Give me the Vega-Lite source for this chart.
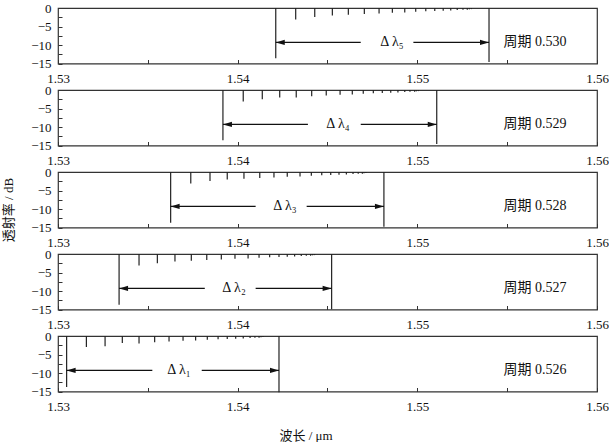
{
  "$schema": "https://vega.github.io/schema/vega-lite/v6.json",
  "background": "white",
  "padding": {"left": 2, "top": 2, "right": 0, "bottom": 2},
  "config": {
    "font": "Liberation Serif, Noto Sans CJK SC",
    "view": {"stroke": "#333", "strokeWidth": 1.2},
    "axis": {
      "domain": false,
      "grid": false,
      "tickColor": "#333",
      "tickWidth": 1,
      "tickSize": 4,
      "offset": -4,
      "zindex": 1,
      "labelFontSize": 13,
      "labelColor": "#111",
      "labelFont": "Liberation Serif"
    }
  },
  "data": {
    "values": [
      {"p": "0.530", "kind": "dip", "wl": 1.54212, "db": -13.6},
      {"p": "0.530", "kind": "dip", "wl": 1.54323, "db": -3.1},
      {"p": "0.530", "kind": "dip", "wl": 1.54429, "db": -2.4},
      {"p": "0.530", "kind": "dip", "wl": 1.54527, "db": -2.0},
      {"p": "0.530", "kind": "dip", "wl": 1.54616, "db": -1.8},
      {"p": "0.530", "kind": "dip", "wl": 1.54705, "db": -1.6},
      {"p": "0.530", "kind": "dip", "wl": 1.54787, "db": -1.5},
      {"p": "0.530", "kind": "dip", "wl": 1.54861, "db": -1.3},
      {"p": "0.530", "kind": "dip", "wl": 1.54930, "db": -1.2},
      {"p": "0.530", "kind": "dip", "wl": 1.54991, "db": -1.0},
      {"p": "0.530", "kind": "dip", "wl": 1.55047, "db": -0.9},
      {"p": "0.530", "kind": "dip", "wl": 1.55097, "db": -0.8},
      {"p": "0.530", "kind": "dip", "wl": 1.55144, "db": -0.75},
      {"p": "0.530", "kind": "dip", "wl": 1.55186, "db": -0.65},
      {"p": "0.530", "kind": "dip", "wl": 1.55222, "db": -0.55},
      {"p": "0.530", "kind": "dip", "wl": 1.55254, "db": -0.5},
      {"p": "0.530", "kind": "dip", "wl": 1.55278, "db": -0.45},
      {"p": "0.530", "kind": "dip", "wl": 1.55290, "db": -0.35},
      {"p": "0.530", "kind": "dip", "wl": 1.55301, "db": -0.3},
      {"p": "0.530", "kind": "dip", "wl": 1.55399, "db": -14.6},
      {"p": "0.530", "kind": "arrow", "a": 1.54212, "g1": 1.54685, "g2": 1.54978, "b": 1.55399, "lx": 1.54859, "tx": 1.5548, "y": -9.3, "lab": "Δ λ₅", "per": "周期 0.530"},

      {"p": "0.529", "kind": "dip", "wl": 1.53918, "db": -13.6},
      {"p": "0.529", "kind": "dip", "wl": 1.54031, "db": -3.1},
      {"p": "0.529", "kind": "dip", "wl": 1.54137, "db": -2.5},
      {"p": "0.529", "kind": "dip", "wl": 1.54234, "db": -2.0},
      {"p": "0.529", "kind": "dip", "wl": 1.54326, "db": -2.0},
      {"p": "0.529", "kind": "dip", "wl": 1.54412, "db": -1.7},
      {"p": "0.529", "kind": "dip", "wl": 1.54493, "db": -1.5},
      {"p": "0.529", "kind": "dip", "wl": 1.54570, "db": -1.3},
      {"p": "0.529", "kind": "dip", "wl": 1.54638, "db": -1.2},
      {"p": "0.529", "kind": "dip", "wl": 1.54699, "db": -1.0},
      {"p": "0.529", "kind": "dip", "wl": 1.54755, "db": -0.9},
      {"p": "0.529", "kind": "dip", "wl": 1.54805, "db": -0.8},
      {"p": "0.529", "kind": "dip", "wl": 1.54852, "db": -0.75},
      {"p": "0.529", "kind": "dip", "wl": 1.54892, "db": -0.65},
      {"p": "0.529", "kind": "dip", "wl": 1.54930, "db": -0.55},
      {"p": "0.529", "kind": "dip", "wl": 1.54959, "db": -0.5},
      {"p": "0.529", "kind": "dip", "wl": 1.54985, "db": -0.45},
      {"p": "0.529", "kind": "dip", "wl": 1.54995, "db": -0.35},
      {"p": "0.529", "kind": "dip", "wl": 1.55006, "db": -0.3},
      {"p": "0.529", "kind": "dip", "wl": 1.55108, "db": -14.6},
      {"p": "0.529", "kind": "arrow", "a": 1.53918, "g1": 1.54391, "g2": 1.54685, "b": 1.55108, "lx": 1.54558, "tx": 1.5548, "y": -9.3, "lab": "Δ λ₄", "per": "周期 0.529"},

      {"p": "0.528", "kind": "dip", "wl": 1.53627, "db": -13.7},
      {"p": "0.528", "kind": "dip", "wl": 1.53739, "db": -3.1},
      {"p": "0.528", "kind": "dip", "wl": 1.53846, "db": -2.4},
      {"p": "0.528", "kind": "dip", "wl": 1.53942, "db": -2.0},
      {"p": "0.528", "kind": "dip", "wl": 1.54035, "db": -1.8},
      {"p": "0.528", "kind": "dip", "wl": 1.54123, "db": -1.6},
      {"p": "0.528", "kind": "dip", "wl": 1.54202, "db": -1.5},
      {"p": "0.528", "kind": "dip", "wl": 1.54276, "db": -1.3},
      {"p": "0.528", "kind": "dip", "wl": 1.54347, "db": -1.2},
      {"p": "0.528", "kind": "dip", "wl": 1.54410, "db": -1.0},
      {"p": "0.528", "kind": "dip", "wl": 1.54468, "db": -0.9},
      {"p": "0.528", "kind": "dip", "wl": 1.54518, "db": -0.8},
      {"p": "0.528", "kind": "dip", "wl": 1.54564, "db": -0.75},
      {"p": "0.528", "kind": "dip", "wl": 1.54605, "db": -0.65},
      {"p": "0.528", "kind": "dip", "wl": 1.54642, "db": -0.55},
      {"p": "0.528", "kind": "dip", "wl": 1.54671, "db": -0.5},
      {"p": "0.528", "kind": "dip", "wl": 1.54694, "db": -0.45},
      {"p": "0.528", "kind": "dip", "wl": 1.54703, "db": -0.35},
      {"p": "0.528", "kind": "dip", "wl": 1.54714, "db": -0.3},
      {"p": "0.528", "kind": "dip", "wl": 1.54814, "db": -14.8},
      {"p": "0.528", "kind": "arrow", "a": 1.53627, "g1": 1.54100, "g2": 1.54384, "b": 1.54814, "lx": 1.54263, "tx": 1.5548, "y": -9.3, "lab": "Δ λ₃", "per": "周期 0.528"},

      {"p": "0.527", "kind": "dip", "wl": 1.53340, "db": -13.7},
      {"p": "0.527", "kind": "dip", "wl": 1.53451, "db": -3.1},
      {"p": "0.527", "kind": "dip", "wl": 1.53553, "db": -2.5},
      {"p": "0.527", "kind": "dip", "wl": 1.53651, "db": -2.0},
      {"p": "0.527", "kind": "dip", "wl": 1.53742, "db": -1.8},
      {"p": "0.527", "kind": "dip", "wl": 1.53828, "db": -1.6},
      {"p": "0.527", "kind": "dip", "wl": 1.53909, "db": -1.5},
      {"p": "0.527", "kind": "dip", "wl": 1.53985, "db": -1.3},
      {"p": "0.527", "kind": "dip", "wl": 1.54058, "db": -1.2},
      {"p": "0.527", "kind": "dip", "wl": 1.54119, "db": -1.0},
      {"p": "0.527", "kind": "dip", "wl": 1.54178, "db": -0.9},
      {"p": "0.527", "kind": "dip", "wl": 1.54230, "db": -0.8},
      {"p": "0.527", "kind": "dip", "wl": 1.54276, "db": -0.75},
      {"p": "0.527", "kind": "dip", "wl": 1.54317, "db": -0.65},
      {"p": "0.527", "kind": "dip", "wl": 1.54354, "db": -0.55},
      {"p": "0.527", "kind": "dip", "wl": 1.54382, "db": -0.5},
      {"p": "0.527", "kind": "dip", "wl": 1.54406, "db": -0.45},
      {"p": "0.527", "kind": "dip", "wl": 1.54417, "db": -0.35},
      {"p": "0.527", "kind": "dip", "wl": 1.54428, "db": -0.3},
      {"p": "0.527", "kind": "dip", "wl": 1.54523, "db": -14.9},
      {"p": "0.527", "kind": "arrow", "a": 1.53340, "g1": 1.53817, "g2": 1.54100, "b": 1.54523, "lx": 1.53980, "tx": 1.5548, "y": -9.3, "lab": "Δ λ₂", "per": "周期 0.527"},

      {"p": "0.526", "kind": "dip", "wl": 1.53048, "db": -13.8},
      {"p": "0.526", "kind": "dip", "wl": 1.53158, "db": -3.0},
      {"p": "0.526", "kind": "dip", "wl": 1.53262, "db": -2.8},
      {"p": "0.526", "kind": "dip", "wl": 1.53358, "db": -1.9},
      {"p": "0.526", "kind": "dip", "wl": 1.53451, "db": -2.0},
      {"p": "0.526", "kind": "dip", "wl": 1.53538, "db": -1.7},
      {"p": "0.526", "kind": "dip", "wl": 1.53618, "db": -1.5},
      {"p": "0.526", "kind": "dip", "wl": 1.53696, "db": -1.3},
      {"p": "0.526", "kind": "dip", "wl": 1.53766, "db": -1.2},
      {"p": "0.526", "kind": "dip", "wl": 1.53831, "db": -1.0},
      {"p": "0.526", "kind": "dip", "wl": 1.53891, "db": -0.9},
      {"p": "0.526", "kind": "dip", "wl": 1.53942, "db": -0.8},
      {"p": "0.526", "kind": "dip", "wl": 1.53989, "db": -0.75},
      {"p": "0.526", "kind": "dip", "wl": 1.54031, "db": -0.65},
      {"p": "0.526", "kind": "dip", "wl": 1.54069, "db": -0.55},
      {"p": "0.526", "kind": "dip", "wl": 1.54096, "db": -0.5},
      {"p": "0.526", "kind": "dip", "wl": 1.54119, "db": -0.45},
      {"p": "0.526", "kind": "dip", "wl": 1.54130, "db": -0.35},
      {"p": "0.526", "kind": "dip", "wl": 1.54141, "db": -0.3},
      {"p": "0.526", "kind": "dip", "wl": 1.54230, "db": -15.2},
      {"p": "0.526", "kind": "arrow", "a": 1.53048, "g1": 1.53525, "g2": 1.53800, "b": 1.54230, "lx": 1.53673, "tx": 1.5548, "y": -9.3, "lab": "Δ λ₁", "per": "周期 0.526"}
    ]
  },
  "facet": {
    "row": {
      "field": "p",
      "type": "nominal",
      "sort": "descending",
      "header": {
        "title": "透射率 / dB",
        "labels": false,
        "titleFontSize": 13,
        "titleFontWeight": "normal",
        "titleColor": "#111",
        "titlePadding": 4
      }
    }
  },
  "spacing": 26,
  "bounds": "flush",
  "resolve": {"axis": {"x": "independent"}},
  "title": {
    "text": "波长 / μm",
    "orient": "bottom",
    "anchor": "middle",
    "fontSize": 13,
    "fontWeight": "normal",
    "color": "#111",
    "offset": 16
  },
  "spec": {
    "width": 539,
    "height": 55.5,
    "layer": [
      {
        "transform": [{"filter": "datum.kind == 'dip'"}],
        "mark": {"type": "rule", "color": "#222", "strokeWidth": 1.2},
        "encoding": {
          "x": {
            "field": "wl", "type": "quantitative", "title": null,
            "scale": {"domain": [1.53, 1.56], "nice": false, "zero": false},
            "axis": {"values": [1.53, 1.535, 1.54, 1.545, 1.55, 1.555, 1.56], "labelExpr": "abs(datum.value * 100 - round(datum.value * 100)) < 1e-6 ? format(datum.value, '.2f') : ''", "labelOverlap": false, "labelPadding": 9, "labelFlush": false}
          },
          "y": {
            "field": "db", "type": "quantitative", "title": null,
            "scale": {"domain": [-15, 0], "nice": false},
            "axis": {"values": [0, -2.5, -5, -7.5, -10, -12.5, -15], "labelPadding": 7}
          },
          "y2": {"datum": 0}
        }
      },
      {
        "transform": [{"filter": "datum.kind == 'arrow'"}],
        "mark": {"type": "rule", "color": "#111", "strokeWidth": 1.2},
        "encoding": {
          "x": {"field": "a", "type": "quantitative", "title": null,
            "axis": {"values": [1.53, 1.535, 1.54, 1.545, 1.55, 1.555, 1.56], "labelExpr": "abs(datum.value * 100 - round(datum.value * 100)) < 1e-6 ? format(datum.value, '.2f') : ''", "labelOverlap": false, "labelPadding": 9, "labelFlush": false}},
          "x2": {"field": "g1"},
          "y": {"field": "y", "type": "quantitative", "title": null,
            "axis": {"values": [0, -2.5, -5, -7.5, -10, -12.5, -15], "labelPadding": 7}}
        }
      },
      {
        "transform": [{"filter": "datum.kind == 'arrow'"}],
        "mark": {"type": "rule", "color": "#111", "strokeWidth": 1.2},
        "encoding": {
          "x": {"field": "g2", "type": "quantitative", "title": null,
            "axis": {"values": [1.53, 1.535, 1.54, 1.545, 1.55, 1.555, 1.56], "labelExpr": "abs(datum.value * 100 - round(datum.value * 100)) < 1e-6 ? format(datum.value, '.2f') : ''", "labelOverlap": false, "labelPadding": 9, "labelFlush": false}},
          "x2": {"field": "b"},
          "y": {"field": "y", "type": "quantitative", "title": null,
            "axis": {"values": [0, -2.5, -5, -7.5, -10, -12.5, -15], "labelPadding": 7}}
        }
      },
      {
        "transform": [{"filter": "datum.kind == 'arrow'"}],
        "mark": {"type": "point", "shape": "M0,0L2,-0.6L2,0.6Z", "filled": true, "color": "#111", "opacity": 1, "size": 81},
        "encoding": {
          "x": {"field": "a", "type": "quantitative", "title": null,
            "axis": {"values": [1.53, 1.535, 1.54, 1.545, 1.55, 1.555, 1.56], "labelExpr": "abs(datum.value * 100 - round(datum.value * 100)) < 1e-6 ? format(datum.value, '.2f') : ''", "labelOverlap": false, "labelPadding": 9, "labelFlush": false}},
          "y": {"field": "y", "type": "quantitative", "title": null,
            "axis": {"values": [0, -2.5, -5, -7.5, -10, -12.5, -15], "labelPadding": 7}}
        }
      },
      {
        "transform": [{"filter": "datum.kind == 'arrow'"}],
        "mark": {"type": "point", "shape": "M0,0L-2,-0.6L-2,0.6Z", "filled": true, "color": "#111", "opacity": 1, "size": 81},
        "encoding": {
          "x": {"field": "b", "type": "quantitative", "title": null,
            "axis": {"values": [1.53, 1.535, 1.54, 1.545, 1.55, 1.555, 1.56], "labelExpr": "abs(datum.value * 100 - round(datum.value * 100)) < 1e-6 ? format(datum.value, '.2f') : ''", "labelOverlap": false, "labelPadding": 9, "labelFlush": false}},
          "y": {"field": "y", "type": "quantitative", "title": null,
            "axis": {"values": [0, -2.5, -5, -7.5, -10, -12.5, -15], "labelPadding": 7}}
        }
      },
      {
        "transform": [{"filter": "datum.kind == 'arrow'"}],
        "mark": {"type": "text", "fontSize": 14, "color": "#111", "baseline": "middle", "align": "center"},
        "encoding": {
          "x": {"field": "lx", "type": "quantitative", "title": null,
            "axis": {"values": [1.53, 1.535, 1.54, 1.545, 1.55, 1.555, 1.56], "labelExpr": "abs(datum.value * 100 - round(datum.value * 100)) < 1e-6 ? format(datum.value, '.2f') : ''", "labelOverlap": false, "labelPadding": 9, "labelFlush": false}},
          "y": {"field": "y", "type": "quantitative", "title": null,
            "axis": {"values": [0, -2.5, -5, -7.5, -10, -12.5, -15], "labelPadding": 7}},
          "text": {"field": "lab"}
        }
      },
      {
        "transform": [{"filter": "datum.kind == 'arrow'"}],
        "mark": {"type": "text", "fontSize": 14, "color": "#111", "baseline": "middle", "align": "left"},
        "encoding": {
          "x": {"field": "tx", "type": "quantitative", "title": null,
            "axis": {"values": [1.53, 1.535, 1.54, 1.545, 1.55, 1.555, 1.56], "labelExpr": "abs(datum.value * 100 - round(datum.value * 100)) < 1e-6 ? format(datum.value, '.2f') : ''", "labelOverlap": false, "labelPadding": 9, "labelFlush": false}},
          "y": {"field": "y", "type": "quantitative", "title": null,
            "axis": {"values": [0, -2.5, -5, -7.5, -10, -12.5, -15], "labelPadding": 7}},
          "text": {"field": "per"}
        }
      }
    ]
  }
}
